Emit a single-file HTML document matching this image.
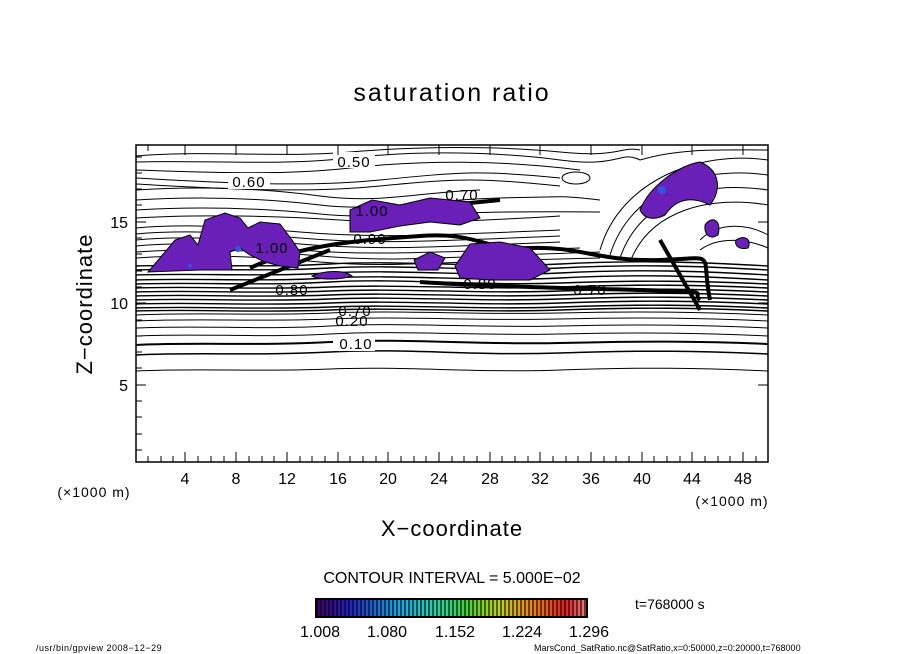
<!DOCTYPE html>
<html><head><style>
body{margin:0;background:#fff;}
svg{display:block;font-family:"Liberation Sans",sans-serif;}
</style></head><body>
<svg width="904" height="654" viewBox="0 0 904 654" xmlns="http://www.w3.org/2000/svg">
<rect width="904" height="654" fill="#fff"/>
<text x="452" y="101" font-size="25" text-anchor="middle" letter-spacing="2">saturation ratio</text>
<g fill="none" stroke="#000" stroke-width="1">
<path d="M136,371 C200,368 260,372 330,369 S480,373 560,370 S700,368 768,371"/>
<path d="M136,355 C200,352 250,356 330,352 S470,356 560,353 S700,351 768,354" stroke-width="1.5"/>
<path d="M136,345 C200,342 260,346 330,342 S480,345 560,343 S700,341 768,344" stroke-width="2"/>
<path d="M136,336 C200,333 260,338 330,334 S480,336 560,334 S700,333 768,336"/>
<path d="M136,328 C200,325 260,330 330,326 S480,328 560,326 S700,325 768,328"/>
<path d="M136,321 C200,318 260,322 330,319 S480,321 560,319 S700,318 768,321"/>
<path d="M136,315 C200,312 260,316 330,313 S480,315 560,313 S700,312 768,315"/>
</g>
<g fill="none" stroke="#000" stroke-width="1.4">
<path d="M136,266 C200,264 260,268 330,264 S480,268 560,264 S700,262 768,266"/>
<path d="M136,270 C200,268 260,272 330,268 S480,272 560,268 S700,266 768,270"/>
<path d="M136,275 C200,273 260,277 330,273 S480,277 560,273 S700,271 768,275"/>
<path d="M136,280 C200,278 260,282 330,278 S480,282 560,278 S700,276 768,280"/>
<path d="M136,284 C200,282 260,286 330,282 S480,286 560,283 S700,281 768,284"/>
<path d="M136,288 C200,286 260,290 330,287 S480,290 560,287 S700,285 768,288"/>
<path d="M136,292 C200,290 260,294 330,291 S480,294 560,291 S700,289 768,292"/>
<path d="M136,296 C200,294 260,298 330,295 S480,298 560,295 S700,293 768,296"/>
<path d="M136,300 C200,298 260,302 330,299 S480,302 560,299 S700,297 768,300"/>
<path d="M136,304 C200,302 260,306 330,303 S480,306 560,303 S700,301 768,304"/>
<path d="M136,308 C200,306 260,310 330,307 S480,310 560,307 S700,305 768,308"/>
<path d="M136,311 C200,309 260,313 330,310 S480,313 560,310 S700,308 768,311"/>
</g>
<g fill="none" stroke="#000" stroke-width="1">
<path d="M136,156 C200,150 280,158 350,152 S500,146 560,152 S620,146 640,150"/>
<path d="M136,162 C200,160 280,166 350,158 S500,152 560,160 S620,150 640,160"/>
<path d="M136,170 C200,172 280,176 350,168 S500,160 580,170"/>
<path d="M136,178 C210,182 300,188 380,180 S480,170 560,178"/>
<path d="M136,184 C210,188 300,194 380,186 S480,178 560,186"/>
<path d="M136,190 C200,186 260,188 320,196 S420,192 480,190"/>
<path d="M136,200 C200,196 260,198 320,205 S420,200 500,198 S560,196 600,200"/>
<path d="M136,210 C200,206 260,208 320,214 S420,210 600,212"/>
<path d="M136,218 C200,214 280,216 340,220 S460,222 560,216"/>
<path d="M136,228 C180,224 230,226 300,232 S420,236 560,230"/>
<path d="M136,234 C180,230 230,232 300,238 S420,242 560,236"/>
<path d="M136,240 C180,236 230,238 300,244 S420,248 560,242"/>
<path d="M136,246 C180,242 230,244 300,250 S420,252 580,248"/>
<path d="M136,252 C200,248 250,250 320,256 S420,258 600,252"/>
<path d="M136,258 C200,254 250,256 320,262 S420,262 600,258"/>
<path d="M600,250 C620,180 700,150 768,160"/>
<path d="M610,255 C630,190 700,165 768,175"/>
<path d="M620,258 C640,200 700,180 768,190"/>
<path d="M630,262 C650,210 710,195 768,205"/>
<path d="M700,240 C720,220 750,225 768,235"/>
<path d="M700,250 C720,235 750,240 768,248"/>
<path d="M640,160 C680,148 720,150 768,150"/>
<ellipse cx="576" cy="178" rx="14" ry="6"/>
</g>
<g fill="none" stroke="#000" stroke-width="4">
<path d="M250,268 C300,245 360,240 420,236 S480,250 530,248 S600,262 660,260 S700,250 710,300"/>
<path d="M420,282 C480,286 560,288 640,290 S690,292 700,300"/>
<path d="M660,240 L700,310"/>
<path d="M230,290 L330,250"/>
<path d="M380,212 L500,200"/>
</g>
<g fill="#6a1fb8" stroke="#000" stroke-width="1">
<path d="M148,272 L160,258 L175,240 L190,235 L198,245 L205,220 L225,213 L240,218 L248,228 L260,222 L280,224 L292,240 L300,252 L298,268 L280,266 L265,262 L250,255 L240,248 L230,252 L232,270 L200,270 Z"/>
<path d="M350,210 L372,200 L400,205 L430,198 L470,202 L480,218 L460,225 L430,222 L400,226 L370,232 L350,232 Z"/>
<path d="M455,266 L470,244 L500,242 L530,248 L550,270 L530,280 L490,280 L460,278 Z"/>
<path d="M414,260 L430,252 L445,258 L438,270 L418,270 Z"/>
<path d="M312,276 C325,270 345,270 352,276 C340,280 320,280 312,276 Z"/>
<path d="M640,210 C650,185 680,165 700,162 C720,170 722,190 710,205 C690,195 675,200 665,215 C655,220 645,220 640,210 Z"/>
<path d="M705,225 C712,215 722,220 718,235 C710,240 704,235 705,225 Z"/>
<path d="M736,240 C745,234 752,240 748,248 C740,250 734,246 736,240 Z"/>
</g>
<g fill="#2d56e0"><circle cx="238" cy="249" r="3"/><circle cx="662" cy="190" r="4"/><circle cx="190" cy="266" r="2"/></g>
<g font-size="15" text-anchor="middle" letter-spacing="1">
<rect x="333" y="152" width="42" height="16" fill="#fff"/><text x="354" y="167">0.50</text>
<rect x="228" y="173" width="42" height="16" fill="#fff"/><text x="249" y="187">0.60</text>
<rect x="333" y="336" width="42" height="15" fill="#fff"/><text x="356" y="349">0.10</text>
<text x="352" y="326">0.20</text>
<text x="355" y="316">0.70</text>
<text x="292" y="295">0.80</text>
<text x="480" y="289">0.80</text>
<text x="590" y="295">0.70</text>
<text x="272" y="253">1.00</text>
<text x="372" y="216">1.00</text>
<text x="462" y="200">0.70</text>
<text x="370" y="244">0.90</text>
</g>
<rect x="136" y="145" width="632" height="317" fill="none" stroke="#000" stroke-width="1.5"/>
<g stroke="#000" stroke-width="1">
<path d="M148,462v-6M161,462v-6M173,462v-6M185,462v-10M198,462v-6M211,462v-6M224,462v-6M236,462v-10M249,462v-6M262,462v-6M274,462v-6M287,462v-10M300,462v-6M312,462v-6M325,462v-6M338,462v-10M350,462v-6M363,462v-6M376,462v-6M388,462v-10M401,462v-6M414,462v-6M426,462v-6M439,462v-10M452,462v-6M464,462v-6M477,462v-6M490,462v-10M502,462v-6M515,462v-6M528,462v-6M540,462v-10M553,462v-6M566,462v-6M578,462v-6M591,462v-10M604,462v-6M616,462v-6M629,462v-6M642,462v-10M654,462v-6M667,462v-6M680,462v-6M692,462v-10M705,462v-6M718,462v-6M730,462v-6M743,462v-10M756,462v-6"/>
<path d="M148,145v6M185,145v10M236,145v10M287,145v10M338,145v10M388,145v10M439,145v10M490,145v10M540,145v10M591,145v10M642,145v10M692,145v10M743,145v10"/>
<path d="M136,385h10M136,303h10M136,222h10M136,450h6M136,434h6M136,417h6M136,401h6M136,368h6M136,352h6M136,336h6M136,320h6M136,287h6M136,271h6M136,254h6M136,238h6M136,205h6M136,189h6M136,173h6M136,157h6"/>
<path d="M768,385h-10M768,303h-10M768,222h-10"/>
</g>
<g font-size="16" text-anchor="middle">
<text x="185" y="484">4</text><text x="236" y="484">8</text><text x="287" y="484">12</text><text x="338" y="484">16</text><text x="388" y="484">20</text><text x="439" y="484">24</text><text x="490" y="484">28</text><text x="540" y="484">32</text><text x="591" y="484">36</text><text x="642" y="484">40</text><text x="692" y="484">44</text><text x="743" y="484">48</text>
</g>
<g font-size="16" text-anchor="end">
<text x="128" y="391">5</text><text x="128" y="309">10</text><text x="128" y="228">15</text>
</g>
<text x="94" y="497" font-size="14" text-anchor="middle" letter-spacing="1">(×1000 m)</text>
<text x="732" y="506" font-size="14" text-anchor="middle" letter-spacing="1">(×1000 m)</text>
<text x="452" y="536" font-size="22" text-anchor="middle" letter-spacing="1">X−coordinate</text>
<text transform="translate(92,304) rotate(-90)" font-size="22" text-anchor="middle" letter-spacing="1">Z−coordinate</text>
<text x="452" y="583" font-size="16" text-anchor="middle">CONTOUR INTERVAL = 5.000E−02</text>
<defs><linearGradient id="cb" x1="0" x2="1">
<stop offset="0" stop-color="#400060"/><stop offset="0.12" stop-color="#2020c0"/><stop offset="0.3" stop-color="#20a0e0"/><stop offset="0.45" stop-color="#30d0a0"/><stop offset="0.55" stop-color="#40d040"/><stop offset="0.68" stop-color="#c0d020"/><stop offset="0.8" stop-color="#f08020"/><stop offset="0.92" stop-color="#e02020"/><stop offset="1" stop-color="#f08080"/></linearGradient>
<pattern id="st" width="4" height="20" patternUnits="userSpaceOnUse"><rect x="0" width="2" height="20" fill="#000" opacity="0.55"/></pattern></defs>
<rect x="316" y="599" width="271" height="18" fill="url(#cb)"/>
<rect x="316" y="599" width="271" height="18" fill="url(#st)" stroke="#000" stroke-width="2"/>
<g font-size="16"><text x="300" y="637">1.008</text><text x="367" y="637">1.080</text><text x="435" y="637">1.152</text><text x="502" y="637">1.224</text><text x="569" y="637">1.296</text></g>
<text x="635" y="609" font-size="14">t=768000 s</text>
<text x="36" y="651" font-size="9" letter-spacing="0.5">/usr/bin/gpview   2008−12−29</text>
<text x="534" y="651" font-size="9">MarsCond_SatRatio.nc@SatRatio,x=0:50000,z=0:20000,t=768000</text>
</svg>
</body></html>
